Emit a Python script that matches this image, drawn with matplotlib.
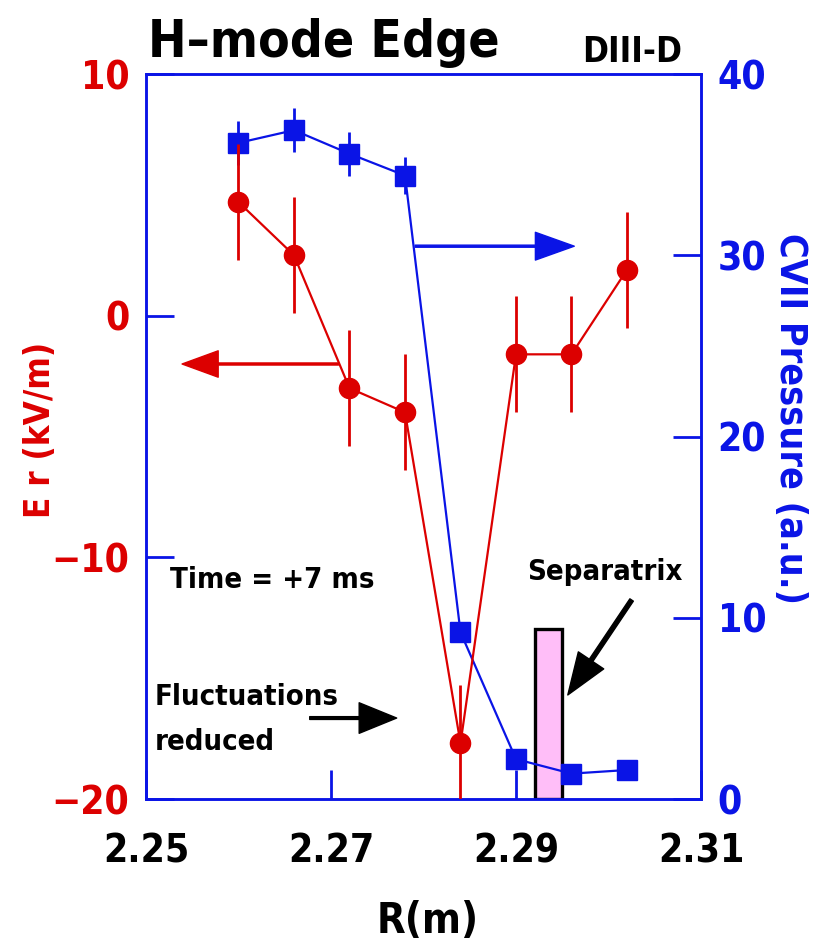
import os
import matplotlib
matplotlib.use('Agg')
import matplotlib.pyplot as plt
from matplotlib import font_manager as fm

# pick a narrow bold face if one is installed
wanted = ['LiberationSansNarrow-Bold.ttf', 'DejaVuSansCondensed-Bold.ttf',
          'NotoSans-CondensedBold.ttf', 'NotoSans-ExtraCondensedBold.ttf',
          'RobotoCondensed-Bold.ttf', 'Roboto-Bold.ttf',
          'LiberationSans-Bold.ttf']
files = {os.path.basename(f.fname): f.fname for f in fm.fontManager.ttflist}
font_name, font_file = 'DejaVu Sans', None
for w in wanted:
    if w in files:
        font_file = files[w]
        font_name = fm.FontProperties(fname=font_file).get_name()
        break
narrow = font_file is not None and ('Narrow' in font_file or 'Condensed' in font_file)

plt.rcParams['font.family'] = [font_name, 'DejaVu Sans']
plt.rcParams['font.weight'] = 'bold'
if narrow:
    plt.rcParams['font.stretch'] = 'condensed'

RED = '#DC0000'
BLUE = '#0A14E6'
PINK = '#FFBEF8'

# major radius of the measurement channels (m)
r_pos = [2.260, 2.266, 2.272, 2.278, 2.284, 2.290, 2.296, 2.302]

# radial electric field (kV/m) and its error
er_val = [4.7, 2.5, -3.0, -4.0, -17.7, -1.6, -1.6, 1.9]
er_err = [2.4, 2.4, 2.4, 2.4, 2.4, 2.4, 2.4, 2.4]

# CVII pressure (a.u.) and its error
p_val = [36.2, 36.9, 35.6, 34.4, 9.2, 2.2, 1.4, 1.6]
p_err = [1.2, 1.2, 1.2, 1.0, 0.0, 0.0, 0.0, 0.0]

# separatrix location band
sep_r = 2.2935
sep_w = 0.0029
sep_h = 9.4

x_ticks = [2.25, 2.27, 2.29, 2.31]
er_ticks = [-20, -10, 0, 10]
p_ticks = [0, 10, 20, 30, 40]

W, H = 814, 947
fs = 1.0 if narrow else 0.85   # shrink text when only a wide face exists


def px(x, y):
    return x / W, 1 - y / H


fig = plt.figure(figsize=(W / 100, H / 100), dpi=100)
ax = fig.add_axes([146 / W, 1 - 799 / H, 555 / W, 725 / H])
ax2 = ax.twinx()
ax.set_zorder(ax2.get_zorder() + 1)
ax.patch.set_visible(False)

# pressure profile on the right axis
ax2.bar(sep_r, sep_h, width=sep_w, color=PINK, edgecolor='black',
        linewidth=2.4, zorder=1)
ax2.errorbar(r_pos, p_val, yerr=p_err, color=BLUE, marker='s', ms=14.5,
             lw=1.6, elinewidth=2, capsize=0, zorder=3)

# Er profile on the left axis
ax.errorbar(r_pos, er_val, yerr=er_err, color=RED, marker='o', ms=14.5,
            lw=1.6, elinewidth=2, capsize=0, zorder=3)

ax.set_xlim(2.25, 2.31)
ax.set_ylim(-20, 10)
ax2.set_ylim(0, 40)

ax.set_xticks(x_ticks)
ax.set_xticklabels(['%.2f' % v for v in x_ticks])
ax.set_yticks(er_ticks)
ax.set_yticklabels([str(v).replace('-', '\u2212') for v in er_ticks])
ax2.set_yticks(p_ticks)
ax2.set_yticklabels([str(v) for v in p_ticks])

ax.tick_params(axis='x', direction='in', length=21, width=2, color=BLUE,
               labelsize=28 * fs, pad=24, labelcolor='black')
ax.tick_params(axis='y', direction='in', length=20, width=2, color=BLUE,
               labelsize=28 * fs, pad=12, labelcolor=RED)
ax2.tick_params(axis='y', direction='in', length=20, width=2, color=BLUE,
                labelsize=28 * fs, pad=12, labelcolor=BLUE)

for a in (ax, ax2):
    for s in a.spines.values():
        s.set_color(BLUE)
        s.set_linewidth(1.8)

# direction arrows
ax.annotate('', xy=(2.2539, -2.0), xytext=(2.2708, -2.0),
            arrowprops=dict(width=1.5, headwidth=19, headlength=26,
                            color=RED, shrink=0))
ax2.annotate('', xy=(2.2963, 30.5), xytext=(2.2791, 30.5),
             arrowprops=dict(width=1.5, headwidth=20, headlength=28,
                             color=BLUE, shrink=0))
ax.annotate('', xy=(2.2771, -16.65), xytext=(2.2677, -16.65),
            arrowprops=dict(width=2, headwidth=22, headlength=27,
                            color='black', shrink=0))
ax2.annotate('', xy=(2.2956, 5.74), xytext=(2.3025, 10.98),
             arrowprops=dict(width=3, headwidth=22, headlength=30,
                             color='black', shrink=0))

# labels and annotations
fig.text(*px(148, 57), 'H\u2013mode Edge', fontsize=37 * fs, va='baseline')
fig.text(*px(582, 62), 'DIII-D', fontsize=25 * fs, va='baseline')
fig.text(*px(170, 588), 'Time = +7 ms', fontsize=21 * fs, va='baseline')
fig.text(*px(527, 580), 'Separatrix', fontsize=21 * fs, va='baseline')
fig.text(*px(155, 705), 'Fluctuations', fontsize=21 * fs, va='baseline')
fig.text(*px(155, 750), 'reduced', fontsize=21 * fs, va='baseline')
fig.text(*px(428, 933), 'R(m)', fontsize=30 * fs, ha='center', va='baseline')
fig.text(*px(40, 430), 'E r (kV/m)', fontsize=25 * fs, color=RED,
         rotation=90, ha='center', va='center')
fig.text(*px(790, 418), 'CVII Pressure (a.u.)', fontsize=27 * fs, color=BLUE,
         rotation=270, ha='center', va='center')

fig.savefig('out.png', dpi=100)
